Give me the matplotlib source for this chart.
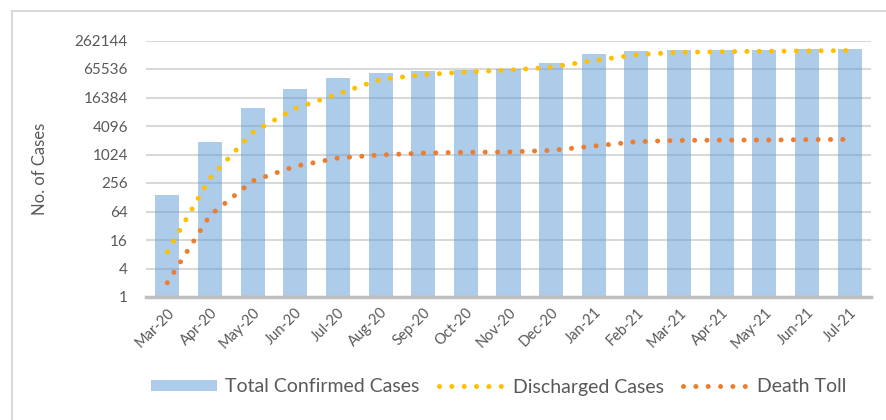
import numpy as np
import matplotlib.pyplot as plt
from matplotlib.lines import Line2D

# monthly values (log2 scale)
months = ['Mar-20', 'Apr-20', 'May-20', 'Jun-20', 'Jul-20', 'Aug-20', 'Sep-20',
          'Oct-20', 'Nov-20', 'Dec-20', 'Jan-21', 'Feb-21', 'Mar-21', 'Apr-21',
          'May-21', 'Jun-21', 'Jul-21']
confirmed = [141, 1880, 9970, 25100, 42000, 52900, 58200, 63200, 66300, 87000,
             133000, 154000, 164000, 166000, 168000, 170000, 172000]
discharged = [9, 325, 3000, 9650, 19500, 39500, 49700, 56700, 62000, 71600,
              99000, 131000, 148000, 152000, 156000, 158000, 161000]
deaths = [2, 53, 283, 577, 864, 1000, 1100, 1140, 1160, 1250,
          1540, 1910, 2040, 2060, 2070, 2110, 2140]
yticks = [1, 4, 16, 64, 256, 1024, 4096, 16384, 65536, 262144]

plt.rcParams['font.family'] = ['Lato', 'DejaVu Sans']
txt = '#595959'

fig = plt.figure(figsize=(8.87, 4.2), dpi=100)
ax = fig.add_axes([146 / 887, 1 - 297 / 420, (871 - 146) / 887, (297 - 40.5) / 420])

x = np.arange(len(months))
bars = ax.bar(x, confirmed, width=0.565, color='#5B9BD5', alpha=0.5, zorder=2,
              label='Total Confirmed Cases')
dot = (0, (0.01, 2.46))
l1, = ax.plot(x, discharged, color='#FFC000', lw=3.6, linestyle=dot,
              dash_capstyle='round', zorder=3, label='Discharged Cases')
l2, = ax.plot(x, deaths, color='#ED7D31', lw=3.6, linestyle=dot,
              dash_capstyle='round', zorder=3, label='Death Toll')

ax.set_yscale('log', base=2)
ax.set_ylim(1, 262144)
ax.set_xlim(-0.5, len(months) - 0.5)
ax.set_yticks(yticks)
ax.set_yticklabels([str(v) for v in yticks])
ax.minorticks_off()
ax.yaxis.grid(True, color='#D9D9D9', lw=1.5, zorder=1)
ax.set_axisbelow(True)
for s in ['top', 'right', 'left']:
    ax.spines[s].set_visible(False)
ax.spines['bottom'].set_color('#BFBFBF')
ax.spines['bottom'].set_linewidth(2.5)
ax.spines['bottom'].set_zorder(4)
ax.tick_params(axis='both', length=0, colors=txt)
ax.tick_params(axis='y', pad=13, labelsize=11)
ax.set_xticks(x)
ax.set_xticklabels(months, rotation=45, ha='right', va='top',
                   rotation_mode='anchor', fontsize=10.5)
ax.tick_params(axis='x', pad=6)
ax.set_ylabel('No. of Cases', color=txt, fontsize=12, labelpad=19)

fig.legend(handles=[bars, l1, l2], loc='center',
           bbox_to_anchor=(499 / 887, 1 - 387 / 420), ncol=3, frameon=False,
           fontsize=14, handlelength=3.4, handleheight=0.55,
           columnspacing=1.0, handletextpad=0.4, labelcolor=txt)

# chart border (cropped)
fig.add_artist(Line2D([12 / 887, 12 / 887], [0, 1 - 11 / 420],
                      color='#D9D9D9', lw=1.5, transform=fig.transFigure))
fig.add_artist(Line2D([12 / 887, 1], [1 - 11 / 420, 1 - 11 / 420],
                      color='#D9D9D9', lw=1.5, transform=fig.transFigure))

fig.savefig('out.png', dpi=100)
